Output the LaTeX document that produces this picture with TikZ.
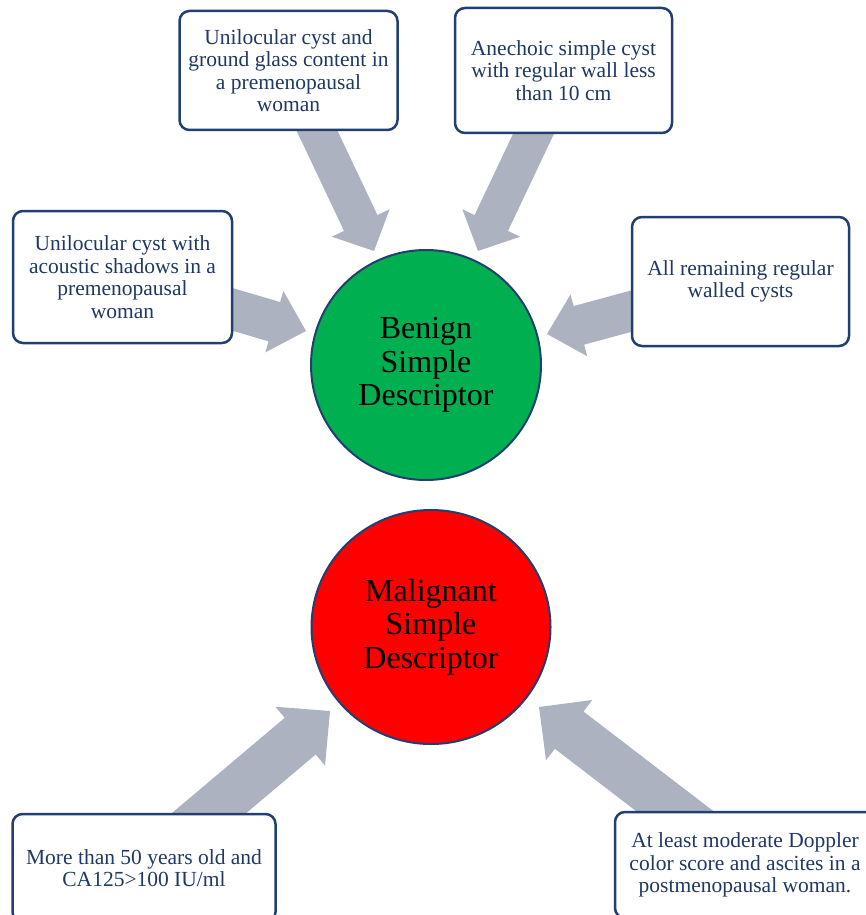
\documentclass[tikz,border=0pt]{standalone}
\usepackage{fontspec}
\setmainfont{Liberation Serif}
\usetikzlibrary{calc,backgrounds,shapes.geometric}
\definecolor{navy}{HTML}{1F3864}
\definecolor{boxline}{HTML}{213F70}
\definecolor{arrowgray}{HTML}{ADB2C0}
\definecolor{bgreen}{HTML}{00B050}
\definecolor{mred}{HTML}{FF0000}
% fat block arrow: #1 tail, #2 tip, #3 half shaft width, #4 half head width, #5 head length
\newcommand\fatarr[5]{%
  \path coordinate (fa-b) at ($(#2)!#5!(#1)$);
  \fill[arrowgray] ($(#1)!#3!90:(#2)$) -- ($(fa-b)!#3!90:(#2)$) -- ($(fa-b)!#4!90:(#2)$) -- (#2)
     -- ($(fa-b)!#4!-90:(#2)$) -- ($(fa-b)!#3!-90:(#2)$) -- ($(#1)!#3!-90:(#2)$) -- cycle;}
\begin{document}
\begin{tikzpicture}[x=1pt,y=-1pt,
  box/.style={draw=boxline, line width=2.5pt, rounded corners=10pt, fill=white,
    align=center, text=navy, font=\fontsize{21.5}{22.5}\selectfont, inner sep=0pt},
  disc/.style={ellipse, draw=boxline, line width=2pt, align=center, text=black,
    font=\fontsize{32}{33.5}\selectfont, inner sep=0pt}]
\useasboundingbox (0,0) rectangle (866,915);
\clip (0,0) rectangle (866,915);

% central discs
\node[disc, fill=bgreen, minimum width=230pt, minimum height=230pt] (benign) at (426,365)
  {Benign\\Simple\\Descriptor};
\node[disc, fill=mred, minimum width=239pt, minimum height=234pt] (malign) at (431,627)
  {Malignant\\Simple\\Descriptor};

% boxes
\node[box, minimum width=218pt, minimum height=119pt] (tl) at (288.5,70.5)
  {Unilocular cyst and\\ground glass content in\\a premenopausal\\woman};
\node[box, minimum width=217pt, minimum height=125pt] (tr) at (563.5,70.5)
  {Anechoic simple cyst\\with regular wall less\\than 10 cm};
\node[box, minimum width=219pt, minimum height=132pt] (lb) at (122.5,277)
  {Unilocular cyst with\\acoustic shadows in a\\premenopausal\\woman};
\node[box, minimum width=217pt, minimum height=129pt] (rb) at (740.5,281.5)
  {All remaining regular\\walled cysts};
\node[box, minimum width=263pt, minimum height=108pt] (bl) at (144,868)
  {More than 50 years old and\\CA125>100 IU/ml};
\node[box, minimum width=260pt, minimum height=106pt] (br) at (745,865)
  {At least moderate Doppler\\color score and ascites in a\\postmenopausal woman.};

% arrow tips
\coordinate (t1) at (374,251);
\coordinate (t2) at (478,251);
\coordinate (t3) at (306,331);
\coordinate (t4) at (547,334);
\coordinate (t5) at (330,711);
\coordinate (t6) at (539,707);

\begin{pgfonlayer}{background}
\fatarr{tl.center}{t1}{18.5pt}{32pt}{31pt}
\fatarr{tr.center}{t2}{18.5pt}{32pt}{31pt}
\fatarr{lb.center}{t3}{20.5pt}{32pt}{33pt}
\fatarr{rb.center}{t4}{20pt}{32pt}{33pt}
\fatarr{bl.center}{t5}{24pt}{38.5pt}{39pt}
\fatarr{br.center}{t6}{23.5pt}{38pt}{38pt}
\end{pgfonlayer}
\end{tikzpicture}
\end{document}
